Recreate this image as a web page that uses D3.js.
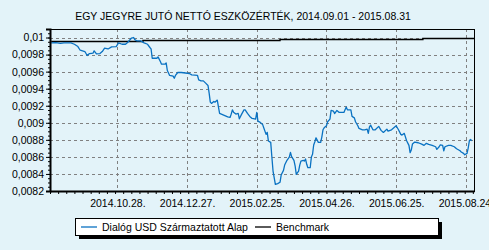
<!DOCTYPE html>
<html>
<head>
<meta charset="utf-8">
<script src="https://cdn.jsdelivr.net/npm/d3@7"></script>
<style>
  body { margin: 0; background: #e3f3f9; }
  svg { display: block; font-family: "Liberation Sans", Arial, sans-serif; }
</style>
</head>
<body>
<svg width="489" height="250"></svg>
<script>
// ==== data ====
const title = "EGY JEGYRE JUTÓ NETTÓ ESZKÖZÉRTÉK, 2014.09.01 - 2015.08.31";
const seriesNames = ["Dialóg USD Származtatott Alap", "Benchmark"];

const fundDates = [
  "2014-09-01","2014-09-05","2014-09-09","2014-09-12","2014-09-18","2014-09-21","2014-09-24","2014-09-26","2014-09-30","2014-10-02",
  "2014-10-04","2014-10-07","2014-10-08","2014-10-10","2014-10-13","2014-10-15","2014-10-17","2014-10-20","2014-10-23","2014-10-27",
  "2014-10-29","2014-11-01","2014-11-04","2014-11-06","2014-11-09","2014-11-11","2014-11-12","2014-11-14","2014-11-17","2014-11-20",
  "2014-11-23","2014-11-25","2014-11-26","2014-11-27","2014-12-01","2014-12-02","2014-12-04","2014-12-05","2014-12-08","2014-12-09",
  "2014-12-10","2014-12-12","2014-12-15","2014-12-16","2014-12-17","2014-12-19","2014-12-22","2014-12-29","2014-12-31","2015-01-05",
  "2015-01-06","2015-01-08","2015-01-10","2015-01-12","2015-01-14","2015-01-15","2015-01-16","2015-01-17","2015-01-19","2015-01-20",
  "2015-01-22","2015-01-23","2015-01-24","2015-01-27","2015-01-29","2015-01-31","2015-02-02","2015-02-03","2015-02-04","2015-02-05",
  "2015-02-07","2015-02-09","2015-02-10","2015-02-12","2015-02-14","2015-02-15","2015-02-17","2015-02-19","2015-02-21","2015-02-24",
  "2015-02-25","2015-02-26","2015-02-28","2015-03-02","2015-03-03","2015-03-05","2015-03-06","2015-03-07","2015-03-09","2015-03-10",
  "2015-03-11","2015-03-13","2015-03-15","2015-03-17","2015-03-18","2015-03-20","2015-03-21","2015-03-23","2015-03-25","2015-03-26",
  "2015-03-27","2015-03-29","2015-03-30","2015-03-31","2015-04-02","2015-04-03","2015-04-04","2015-04-06","2015-04-07","2015-04-08",
  "2015-04-09","2015-04-10","2015-04-12","2015-04-13","2015-04-14","2015-04-15","2015-04-16","2015-04-17","2015-04-19","2015-04-21",
  "2015-04-22","2015-04-23","2015-04-24","2015-04-26","2015-04-27","2015-04-29","2015-04-30","2015-05-02","2015-05-03","2015-05-05",
  "2015-05-07","2015-05-11","2015-05-13","2015-05-14","2015-05-17","2015-05-18","2015-05-20","2015-05-21","2015-05-23","2015-05-24",
  "2015-05-27","2015-05-29","2015-05-31","2015-06-01","2015-06-02","2015-06-03","2015-06-05","2015-06-07","2015-06-10","2015-06-12",
  "2015-06-14","2015-06-17","2015-06-18","2015-06-21","2015-06-23","2015-06-25","2015-06-27","2015-06-29","2015-06-30","2015-07-02",
  "2015-07-04","2015-07-06","2015-07-07","2015-07-08","2015-07-09","2015-07-11","2015-07-14","2015-07-17","2015-07-19","2015-07-21",
  "2015-07-23","2015-07-26","2015-07-29","2015-07-30","2015-08-01","2015-08-02","2015-08-04","2015-08-05","2015-08-06","2015-08-09",
  "2015-08-11","2015-08-14","2015-08-16","2015-08-19","2015-08-20","2015-08-22","2015-08-23","2015-08-25","2015-08-26","2015-08-27",
  "2015-08-28","2015-08-29"
];

const fundValues = [
  0.009937,0.009940,0.009932,0.009938,0.009937,0.009921,0.009894,0.009851,0.009836,0.009789,
  0.009812,0.009816,0.009843,0.009808,0.009812,0.009836,0.009875,0.009866,0.009890,0.009894,
  0.009937,0.009921,0.009921,0.009945,0.009992,0.010000,0.009976,0.009960,0.009960,0.009937,
  0.009921,0.009883,0.009866,0.009757,0.009757,0.009773,0.009719,0.009687,0.009687,0.009702,
  0.009613,0.009555,0.009547,0.009523,0.009555,0.009590,0.009590,0.009578,0.009562,0.009555,
  0.009503,0.009492,0.009492,0.009465,0.009438,0.009348,0.009242,0.009227,0.009250,0.009242,
  0.009266,0.009187,0.009110,0.009093,0.009082,0.009070,0.009063,0.009102,0.009152,0.009125,
  0.009102,0.009110,0.009047,0.009102,0.009152,0.009152,0.009110,0.009075,0.009051,0.009043,
  0.009122,0.009020,0.009005,0.008981,0.008941,0.008864,0.008887,0.008786,0.008770,0.008598,
  0.008434,0.008278,0.008286,0.008302,0.008387,0.008442,0.008504,0.008560,0.008598,0.008653,
  0.008602,0.008560,0.008496,0.008396,0.008434,0.008504,0.008551,0.008560,0.008551,0.008575,
  0.008513,0.008473,0.008473,0.008598,0.008630,0.008739,0.008777,0.008824,0.008770,0.008770,
  0.008832,0.008918,0.008941,0.008965,0.009012,0.009043,0.009145,0.009137,0.009108,0.009145,
  0.009122,0.009122,0.009184,0.009152,0.009152,0.009075,0.009058,0.009012,0.008965,0.008934,
  0.008918,0.008918,0.008926,0.008876,0.008949,0.008973,0.008918,0.008918,0.008958,0.008911,
  0.008887,0.008926,0.008903,0.008918,0.008941,0.008965,0.008918,0.008864,0.008856,0.008876,
  0.008789,0.008735,0.008649,0.008680,0.008750,0.008774,0.008766,0.008750,0.008735,0.008759,
  0.008747,0.008735,0.008719,0.008688,0.008719,0.008742,0.008735,0.008672,0.008719,0.008735,
  0.008735,0.008719,0.008695,0.008672,0.008657,0.008641,0.008625,0.008641,0.008704,0.008789,
  0.008805,0.008789
];

const benchDates  = ["2014-09-01","2014-11-19","2015-03-17","2015-07-18","2015-08-31"];
const benchValues = [0.009953, 0.009965, 0.009977, 0.009988, 0.009988];

const yTicks = [0.0082,0.0084,0.0086,0.0088,0.009,0.0092,0.0094,0.0096,0.0098,0.01];
const xTickDates = ["2014-10-28","2014-12-27","2015-02-25","2015-04-26","2015-06-25","2015-08-24"];

// ==== drawing ====
const parse = d3.utcParse("%Y-%m-%d");
const fund  = fundDates.map((d, i) => ({date: parse(d), value: fundValues[i]}));
const bench = benchDates.map((d, i) => ({date: parse(d), value: benchValues[i]}));

const plotLeft = 50, plotRight = 474, plotTop = 29, plotBottom = 191;
const fontSize = "10.5px";

const x = d3.scaleUtc()
  .domain([parse("2014-08-31"), parse("2015-08-31")])
  .range([plotLeft, plotRight]);

const y = d3.scaleLinear()
  .domain([0.0082, 0.0101])
  .range([plotBottom, plotTop]);

const svg = d3.select("svg");

// title
svg.append("text")
  .attr("x", 243).attr("y", 20)
  .attr("text-anchor", "middle")
  .style("font-size", fontSize)
  .attr("fill", "#000")
  .text(title);

// grid
const grid = svg.append("g")
  .attr("stroke", "#808080")
  .attr("stroke-dasharray", "3,3")
  .attr("shape-rendering", "crispEdges");

grid.selectAll(".hg")
  .data(yTicks.slice(1))
  .enter().append("line")
  .attr("x1", plotLeft).attr("x2", plotRight)
  .attr("y1", d => Math.round(y(d)) + 0.5)
  .attr("y2", d => Math.round(y(d)) + 0.5);

grid.selectAll(".vg")
  .data(xTickDates)
  .enter().append("line")
  .attr("x1", d => Math.round(x(parse(d))) + 0.5)
  .attr("x2", d => Math.round(x(parse(d))) + 0.5)
  .attr("y1", plotTop).attr("y2", plotBottom);

// series
const line = d3.line()
  .x(d => x(d.date))
  .y(d => y(d.value));

svg.append("path")
  .datum(bench)
  .attr("fill", "none")
  .attr("stroke", "#000")
  .attr("stroke-width", 1.4)
  .attr("d", d3.line().x(d => x(d.date)).y(d => y(d.value)).curve(d3.curveStepAfter));

svg.append("path")
  .datum(fund)
  .attr("fill", "none")
  .attr("stroke", "#0a72c2")
  .attr("stroke-width", 1.3)
  .attr("stroke-linejoin", "round")
  .attr("d", line);

// frame
svg.append("rect")
  .attr("x", plotLeft + 0.5).attr("y", plotTop + 0.5)
  .attr("width", plotRight - plotLeft).attr("height", plotBottom - plotTop)
  .attr("fill", "none")
  .attr("stroke", "#000")
  .attr("shape-rendering", "crispEdges");

// y axis
const yAxis = d3.axisLeft(y)
  .tickValues(yTicks)
  .tickSize(4)
  .tickFormat(d => String(d).replace(".", ","));

const ya = svg.append("g")
  .attr("transform", `translate(${plotLeft},0)`)
  .call(yAxis);
ya.select(".domain").attr("stroke-width", 2);
ya.selectAll("text").style("font-size", fontSize).attr("fill", "#000").attr("x", -6);

// minor y ticks
svg.append("g")
  .attr("transform", `translate(${plotLeft},0)`)
  .call(d3.axisLeft(y).ticks(38).tickSize(2).tickFormat(""))
  .select(".domain").remove();

// x axis
const xAxis = d3.axisBottom(x)
  .tickValues(xTickDates.map(parse))
  .tickSize(0)
  .tickPadding(9)
  .tickFormat(d3.utcFormat("%Y.%m.%d."));

const xa = svg.append("g")
  .attr("transform", `translate(0,${plotBottom})`)
  .call(xAxis);
xa.select(".domain").attr("stroke-width", 2);
xa.selectAll("text").style("font-size", fontSize).attr("fill", "#000");

// minor x ticks (weekly)
svg.append("g")
  .attr("transform", `translate(0,${plotBottom + 1})`)
  .call(d3.axisBottom(x).ticks(d3.utcWeek).tickSize(2).tickFormat(""))
  .select(".domain").remove();

// legend
const lg = svg.append("g");
lg.append("rect")
  .attr("x", 79).attr("y", 222).attr("width", 363).attr("height", 17)
  .attr("fill", "#000");
lg.append("rect")
  .attr("x", 75.5).attr("y", 218.5).attr("width", 363).attr("height", 17)
  .attr("fill", "#fff").attr("stroke", "#000");

const legendItems = [
  {name: seriesNames[0], color: "#0a72c2", x: 81},
  {name: seriesNames[1], color: "#000", x: 255}
];

const li = lg.selectAll(".li")
  .data(legendItems)
  .enter().append("g")
  .attr("transform", d => `translate(${d.x},227)`);

li.append("line")
  .attr("x1", 0).attr("x2", 16)
  .attr("stroke", d => d.color)
  .attr("stroke-width", 1.3);

li.append("text")
  .attr("x", 21).attr("dy", "0.35em")
  .style("font-size", fontSize)
  .text(d => d.name);
</script>
</body>
</html>
